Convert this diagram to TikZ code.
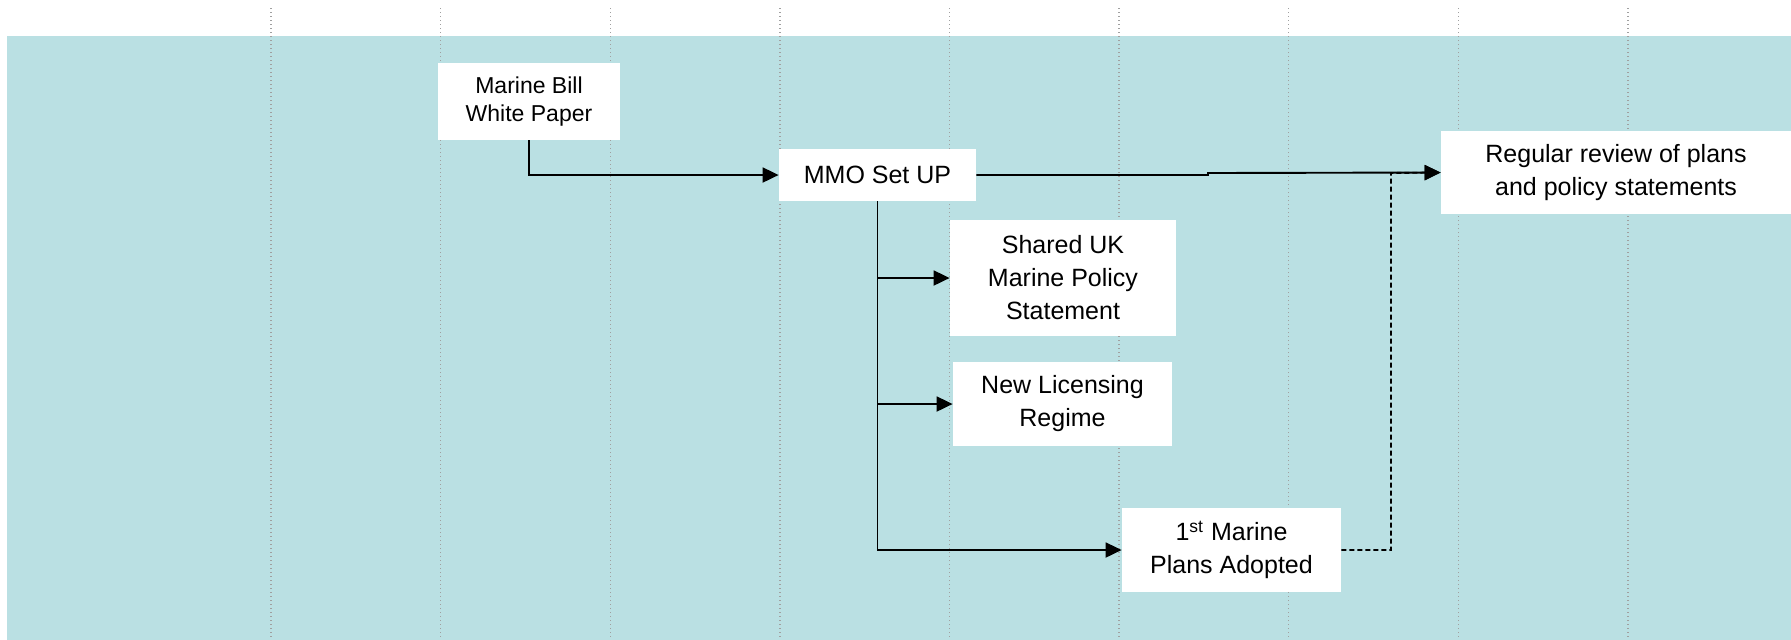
\documentclass[tikz,border=0pt]{standalone}
\usepackage{fontspec}
\setmainfont{Liberation Sans}
\usetikzlibrary{arrows.meta}
\definecolor{seablue}{RGB}{186,224,227}
\definecolor{gridgrey}{RGB}{160,160,160}
\begin{document}
\begin{tikzpicture}[x=0.5pt,y=-0.5pt,
    box/.style={fill=white, inner sep=0pt, align=center, font=\fontsize{12.5}{16.5}\selectfont},
    flow/.style={line width=0.95pt, -{Triangle[length=8pt,width=7.5pt]}}]
    \useasboundingbox (0,0) rectangle (1791,639);

    % 背景
    \fill[seablue] (7,36) rectangle (1795,643);

    % 竖直虚线网格
    \foreach \k in {0,...,8} {
        \draw[gridgrey, line width=0.7pt, dash pattern=on 0.5pt off 1.5pt] (271+169.6*\k,8) -- (271+169.6*\k,643);
    }

    % 各个阶段
    \node[box, minimum width=91pt, minimum height=38.5pt, font=\fontsize{11.5}{14}\selectfont] (bill) at (529,101.5) {Marine Bill\\White Paper};
    \node[box, minimum width=98.5pt, minimum height=26pt] (mmo) at (877.5,175) {MMO Set UP};
    \node[box, minimum width=113pt, minimum height=58pt] (shared) at (1063,278) {Shared UK\\Marine Policy\\Statement};
    \node[box, minimum width=109.5pt, minimum height=42pt] (licence) at (1062.5,404) {New Licensing\\Regime};
    \node[box, minimum width=109.5pt, minimum height=42pt] (plans) at (1231.5,550) {1\textsuperscript{st} Marine\\Plans Adopted};
    \node[box, minimum width=175pt, minimum height=41.5pt] (review) at (1616,172.5) {Regular review of plans\\and policy statements};

    % 连接箭头
    \draw[flow] (bill.south) |- (mmo.west);
    \coordinate (jog) at (1208,173);
    \draw[flow] (mmo.east) -| (jog) -- (review.west);
    \draw[flow] (mmo.south) |- (plans.west);
    \draw[flow] (mmo.south |- shared.west) -- (shared.west);
    \draw[flow] (mmo.south |- licence.west) -- (licence.west);

    % 回到评审的虚线
    \coordinate (loop) at (1391,173);
    \draw[flow, dash pattern=on 2.5pt off 1.5pt] (plans.east) -| (loop) -- (review.west);
\end{tikzpicture}
\end{document}
